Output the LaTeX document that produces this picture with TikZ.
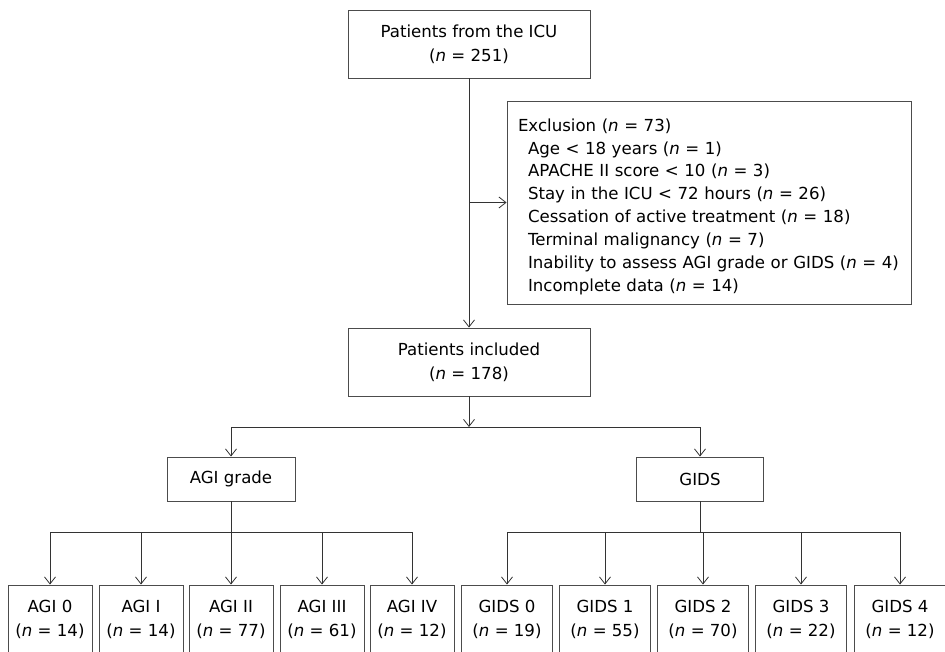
\documentclass[tikz,border=0pt]{standalone}
\usepackage{fontspec}
\setmainfont{DejaVu Sans}
\usetikzlibrary{arrows.meta, positioning}

\begin{document}
\begin{tikzpicture}[x=1bp, y=-1bp,
  every node/.style={font=\fontsize{16.6bp}{24bp}\selectfont},
  box/.style={draw=black!70, line width=0.9bp, align=center, inner sep=0pt},
  arr/.style={draw=black!80, line width=0.8bp, -{Straight Barb[length=7bp, width=11bp]}},
  link/.style={draw=black!80, line width=0.8bp}]

\useasboundingbox (0,0) rectangle (945,652);

% Top of the flow: screened patients, exclusions, included patients
\node[box, minimum width=242bp, minimum height=68bp] (icu) at (469, 44) {%
  Patients from the ICU\\(\textit{n} = 251)};

\node[box, text width=382bp, inner xsep=11bp, minimum height=203bp, align=left,
      font=\fontsize{16.6bp}{22.9bp}\selectfont] (excl) at (709, 202.5) {%
  \rule{0pt}{21bp}Exclusion (\textit{n} = 73)\\
  \hspace*{10bp}Age < 18 years (\textit{n} = 1)\\
  \hspace*{10bp}APACHE II score < 10 (\textit{n} = 3)\\
  \hspace*{10bp}Stay in the ICU < 72 hours (\textit{n} = 26)\\
  \hspace*{10bp}Cessation of active treatment (\textit{n} = 18)\\
  \hspace*{10bp}Terminal malignancy (\textit{n} = 7)\\
  \hspace*{10bp}Inability to assess AGI grade or GIDS (\textit{n} = 4)\\
  \hspace*{10bp}Incomplete data (\textit{n} = 14)};

\node[box, minimum width=242bp, minimum height=68bp] (incl) at (469, 362) {%
  Patients included\\(\textit{n} = 178)};

% Middle row: the two classifications
\node[box, minimum width=128bp, minimum height=44bp] (agi) at (231, 479) {AGI grade};
\node[box, minimum width=127bp, minimum height=44bp] (gids) at (700, 479) {GIDS};

% Bottom row: AGI grades
\node[box, minimum width=84bp, minimum height=68bp] (agi0) at (50, 619) {AGI 0\\(\textit{n} = 14)};
\node[box, minimum width=84bp, minimum height=68bp] (agi1) at (141, 619) {AGI I\\(\textit{n} = 14)};
\node[box, minimum width=84bp, minimum height=68bp] (agi2) at (231, 619) {AGI II\\(\textit{n} = 77)};
\node[box, minimum width=84bp, minimum height=68bp] (agi3) at (322, 619) {AGI III\\(\textit{n} = 61)};
\node[box, minimum width=84bp, minimum height=68bp] (agi4) at (412, 619) {AGI IV\\(\textit{n} = 12)};

% Bottom row: GIDS classes
\node[box, minimum width=91bp, minimum height=68bp] (gids0) at (507, 619) {GIDS 0\\(\textit{n} = 19)};
\node[box, minimum width=91bp, minimum height=68bp] (gids1) at (605, 619) {GIDS 1\\(\textit{n} = 55)};
\node[box, minimum width=91bp, minimum height=68bp] (gids2) at (703, 619) {GIDS 2\\(\textit{n} = 70)};
\node[box, minimum width=91bp, minimum height=68bp] (gids3) at (801, 619) {GIDS 3\\(\textit{n} = 22)};
\node[box, minimum width=91bp, minimum height=68bp] (gids4) at (900, 619) {GIDS 4\\(\textit{n} = 12)};

% Connectors
\coordinate (excljoin) at (icu.south |- excl.west);
\coordinate (split) at (469, 427);
\coordinate (agibus) at (231, 532);
\coordinate (gidsbus) at (700, 532);

\draw[arr] (icu) -- (incl);
\draw[arr] (excljoin) -- (excl.west);
\draw[arr] (incl) -- (split);
\draw[arr] (split) -| (agi);
\draw[arr] (split) -| (gids);

\draw[link] (agi) -- (agibus);
\draw[arr] (agibus) -| (agi0);
\draw[arr] (agibus) -| (agi1);
\draw[arr] (agibus) -- (agi2);
\draw[arr] (agibus) -| (agi3);
\draw[arr] (agibus) -| (agi4);

\draw[link] (gids) -- (gidsbus);
\draw[arr] (gidsbus) -| (gids0);
\draw[arr] (gidsbus) -| (gids1);
\draw[arr] (gidsbus) -| (gids2);
\draw[arr] (gidsbus) -| (gids3);
\draw[arr] (gidsbus) -| (gids4);

\end{tikzpicture}
\end{document}
